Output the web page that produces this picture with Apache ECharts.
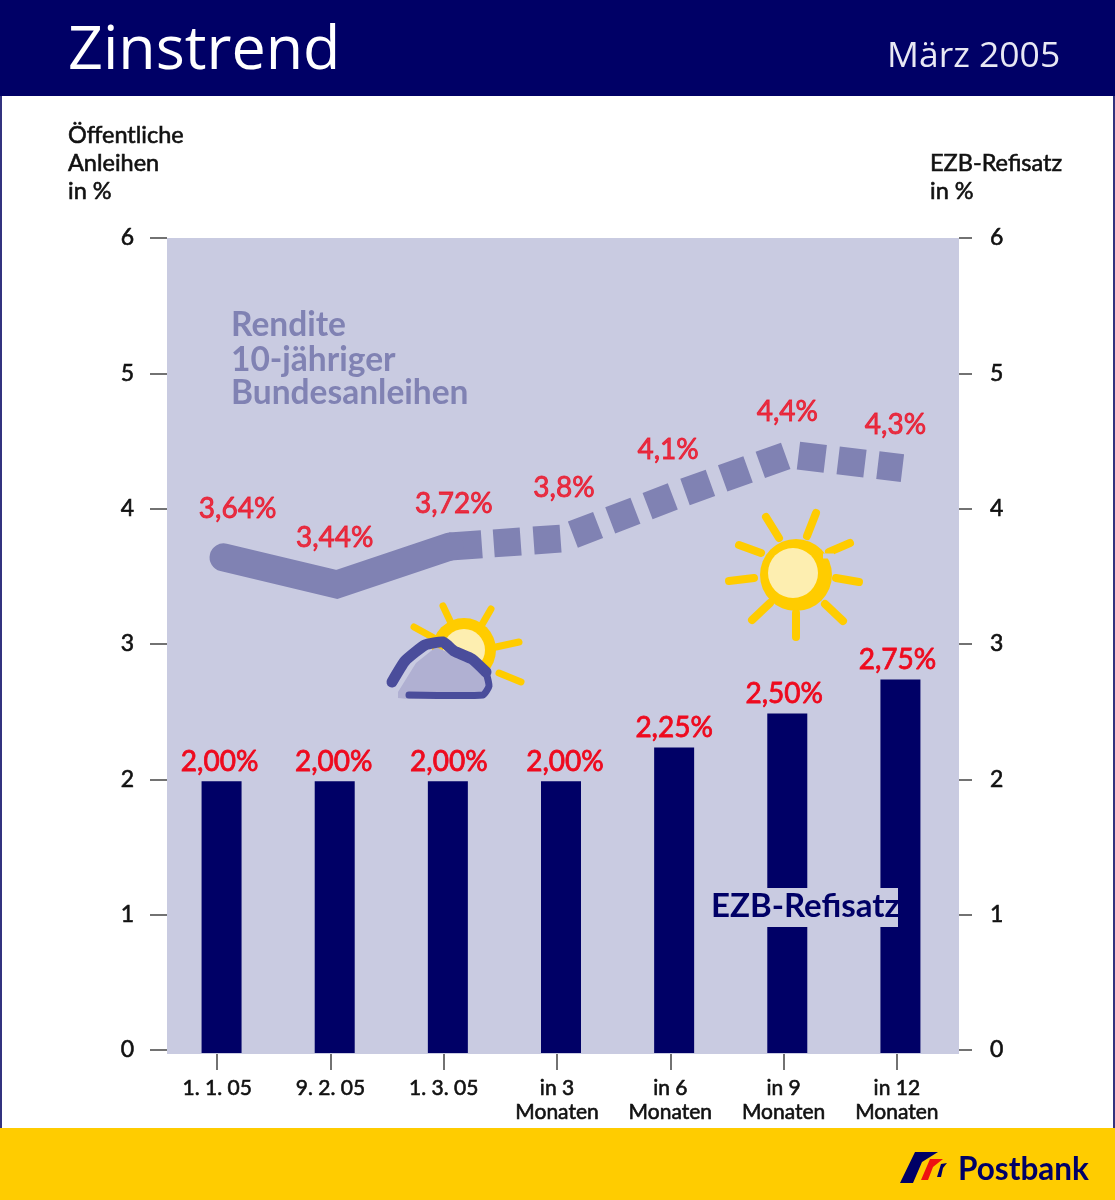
<!DOCTYPE html>
<html><head><meta charset="utf-8">
<style>html,body{margin:0;padding:0;background:#fff}#c{width:1115px;height:1200px}</style>
<script src="https://cdn.jsdelivr.net/npm/echarts@6/dist/echarts.min.js"></script>
</head><body><div id="c"></div>
<script>
var categories = ['1. 1. 05','9. 2. 05','1. 3. 05','in 3\nMonaten','in 6\nMonaten','in 9\nMonaten','in 12\nMonaten'];
var refiValues = [2,2,2,2,2.25,2.5,2.75];
var refiLabels = ['2,00%','2,00%','2,00%','2,00%','2,25%','2,50%','2,75%'];
var yieldActual = [3.64,3.44,3.72,null,null,null,null];
var yieldForecast = [null,null,3.72,3.78,4.1,4.4,4.3];
var yieldLabels = ['3,64%','3,44%','3,72%','3,8%','4,1%','4,4%','4,3%'];
var yTicks = [0,1,2,3,4,5,6];

var NAVY='#000066', LILAC='#c9cbe1', LINE='#8082b3', RED='#ee0a1e', YEL='#ffcc00', CREAM='#fdeeb0';
var FONT='Lato', HFONT='Open Sans';

function txt(x,y,s,size,color,weight,extra){
  var st={x:x,y:y,text:s,fontFamily:FONT,fontSize:size,fill:color,fontWeight:weight||'normal',verticalAlign:'middle'};
  for(var k in (extra||{})) st[k]=extra[k];
  return {type:'text',z:20,style:st};
}
var semi={stroke:'#111',lineWidth:0.6};
function ray(p,w){return {type:'line',z:1,shape:{x1:p[0],y1:p[1],x2:p[2],y2:p[3]},style:{stroke:YEL,lineWidth:w,lineCap:'round'}};}
function poly(pts,fill,z,smooth){return {type:'polygon',z:z,shape:{points:pts,smooth:smooth||0},style:{fill:fill}};}

var bigRays=[[766,517,779,538],[816,513,807,536],[850,543,829,552],[859,582,836,578],[843,621,825,604],[796,637,796,613],[752,620,770,603],[729,581,754,578],[739,545,761,553]];
var smallRays=[[443,606,452,625],[491,609,480,628],[414,627,434,638],[519,642,496,647],[521,682,499,673]];

var graphics=[
  {type:'rect',z:-5,shape:{x:167,y:238,width:792,height:816},style:{fill:LILAC}},
  {type:'rect',z:0,shape:{x:0,y:0,width:1115,height:96},style:{fill:NAVY}},
  {type:'rect',z:0,shape:{x:0,y:96,width:2,height:1032},style:{fill:'#33337f'}},
  {type:'rect',z:0,shape:{x:1113,y:96,width:2,height:1032},style:{fill:'#33337f'}},
  {type:'rect',z:0,shape:{x:0,y:1128,width:1115,height:72},style:{fill:YEL}},
  txt(68,52,'Zinstrend',61,'#ffffff','normal',{fontFamily:HFONT}),
  txt(887,57,'März 2005',35.5,'#e8e8f4','normal',{fontFamily:HFONT}),
  txt(68,135,'Öffentliche',23.5,'#111','normal',semi),
  txt(68,163,'Anleihen',23.5,'#111','normal',semi),
  txt(68,191,'in %',23.5,'#111','normal',semi),
  txt(930,163,'EZB-Refisatz',23.5,'#111','normal',semi),
  txt(930,191,'in %',23.5,'#111','normal',semi),
  txt(231,325,'Rendite',33.5,LINE,'bold'),
  txt(231,360,'10-jähriger',33.5,LINE,'bold'),
  txt(231,393,'Bundesanleihen',33.5,LINE,'bold'),
  {type:'rect',z:18,shape:{x:712,y:888,width:186,height:39},style:{fill:LILAC}},
  txt(711,906,'EZB-Refisatz',33,NAVY,'bold'),
  // Grosse Sonne
  {type:'circle',z:1,shape:{cx:796,cy:575,r:36},style:{fill:YEL}},
  {type:'circle',z:2,shape:{cx:793,cy:573,r:25},style:{fill:CREAM}},
  {type:'line',z:2,shape:{x1:823,y1:556,x2:834,y2:556},style:{stroke:LILAC,lineWidth:5}}
].concat(bigRays.map(function(p){return ray(p,8);})).concat([
  // Sonne hinter Wolke
  {type:'circle',z:1,shape:{cx:464,cy:650,r:32},style:{fill:YEL}},
  {type:'circle',z:2,shape:{cx:464,cy:650,r:21},style:{fill:CREAM}}
]).concat(smallRays.map(function(p){return ray(p,7);})).concat([
  poly([[398,692],[416,663],[436,647],[454,655],[472,662],[486,675],[486,690],[476,698],[408,699],[398,698]],'#b0b0d2',3),
  {type:'polyline',z:4,shape:{points:[[392,682],[405,661],[425,645],[443,642],[454,651],[472,659],[486,672]],smooth:0.15},style:{fill:'none',stroke:'#4a4d9b',lineWidth:11,lineCap:'round',lineJoin:'round'}},
  {type:'polyline',z:4,shape:{points:[[486,672],[489,686],[483,695],[409,695]],smooth:0.15},style:{fill:'none',stroke:'#4a4d9b',lineWidth:7,lineCap:'round',lineJoin:'round'}},
  // Logo
  poly([[900,1183],[915,1152],[938,1152],[922,1162],[913,1183]],NAVY,5),
  poly([[921,1180],[930,1159],[943,1159],[933,1167],[928,1180]],'#ee1111',5),
  poly([[937,1177],[941,1164],[947,1163],[943,1168],[941,1177]],NAVY,5),
  txt(958,1170,'Postbank',31.5,NAVY,'bold')
]);

function hiddenX(gi,data){return {type:'category',gridIndex:gi,data:data,show:false,boundaryGap:true};}
function hiddenY(gi){return {type:'value',gridIndex:gi,min:0,max:6,interval:1,show:false};}
var axisText={fontFamily:FONT,fontSize:23,color:'#111',fontWeight:'normal',textBorderColor:'#111',textBorderWidth:0.6};

var chart=echarts.init(document.getElementById('c'),null,{renderer:'canvas',width:1115,height:1200});
chart.setOption({
  animation:false,
  backgroundColor:'#ffffff',
  grid:[
    {left:167,width:792,top:238,height:812},
    {left:165,width:792,top:238,height:815},
    {left:160.5,width:793,top:238,height:816}
  ],
  xAxis:[
    hiddenX(0,categories),
    hiddenX(1,categories),
    {type:'category',gridIndex:2,data:categories,boundaryGap:true,
     axisLine:{show:false},
     axisTick:{show:true,alignWithLabel:true,length:16,lineStyle:{color:'#444',width:1.5}},
     axisLabel:{fontFamily:FONT,fontSize:21,color:'#111',lineHeight:24,margin:22,interval:0,verticalAlign:'top',textBorderColor:'#111',textBorderWidth:0.6}}
  ],
  yAxis:[
    {type:'value',gridIndex:0,min:0,max:6,interval:1,position:'left',
     axisLine:{show:false},splitLine:{show:false},
     axisTick:{show:true,length:17,lineStyle:{color:'#444',width:1.5}},
     axisLabel:Object.assign({margin:33,align:'right',formatter:function(v){return yTicks[v];}},axisText)},
    {type:'value',gridIndex:0,min:0,max:6,interval:1,position:'right',
     axisLine:{show:false},splitLine:{show:false},
     axisTick:{show:true,length:13,lineStyle:{color:'#444',width:1.5}},
     axisLabel:Object.assign({margin:31,align:'left',formatter:function(v){return yTicks[v];}},axisText)},
    hiddenY(1),
    hiddenY(2)
  ],
  graphic:{elements:graphics},
  series:[
    {type:'bar',xAxisIndex:1,yAxisIndex:2,z:10,barWidth:40,
     itemStyle:{color:NAVY},
     data:refiValues.map(function(v,i){return {value:v,label:{formatter:refiLabels[i],offset:[[-2,0],[-1,0],[1,0],[4,0],[0,0],[-3,0],[-3,0]][i]}};}),
     label:{show:true,position:'top',color:RED,fontFamily:FONT,fontSize:28,fontWeight:'normal',distance:5,textBorderColor:RED,textBorderWidth:0.8}},
    {type:'line',xAxisIndex:0,yAxisIndex:0,z:8,symbol:'none',silent:true,
     lineStyle:{color:LINE,width:28,cap:'butt',join:'miter',type:[32,12,27,13,27,13,27,13,27,13,27,13,27,13,27,13,27,13,27,13,27,13,27,300]},
     data:yieldForecast,connectNulls:false},
    {type:'line',xAxisIndex:0,yAxisIndex:0,z:9,symbol:'none',silent:true,
     lineStyle:{color:LINE,width:28,cap:'round',join:'miter'},
     data:yieldActual},
    {type:'scatter',xAxisIndex:0,yAxisIndex:0,z:11,symbolSize:0,silent:true,
     data:yieldActual.map(function(v,i){var y=v===null?yieldForecast[i]:v;return {value:[i,y],label:{formatter:yieldLabels[i],offset:[[14,-7],[-2,-5],[4,-2],[1,-9],[-8,-4],[-2,-2],[-7,-2]][i]}};}),
     label:{show:true,position:'top',color:RED,fontFamily:FONT,fontSize:28,distance:27,textBorderColor:RED,textBorderWidth:0.8}}
  ]
});
</script></body></html>
